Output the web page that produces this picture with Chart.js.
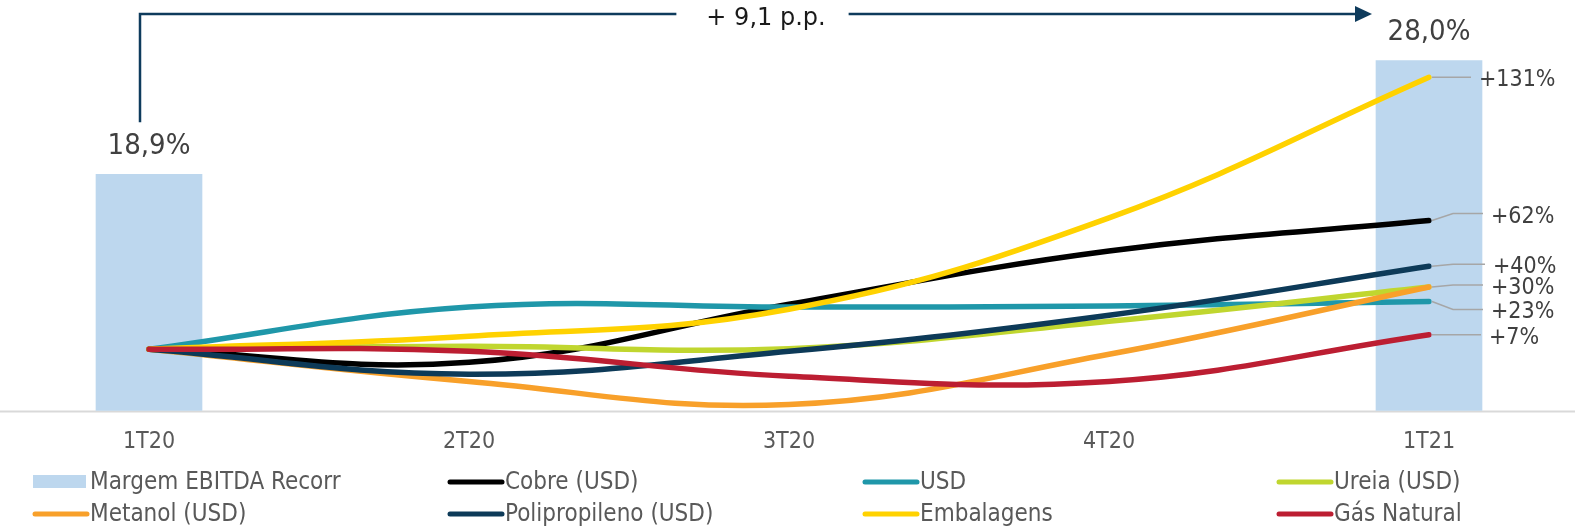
<!DOCTYPE html>
<html>
<head>
<meta charset="utf-8">
<script src="https://cdn.jsdelivr.net/npm/chart.js@4.4.1/dist/chart.umd.min.js"></script>
<style>
  html, body { margin: 0; padding: 0; background: #fff; overflow: hidden; }
  #wrap { width: 1575px; height: 529px; position: relative; }
</style>
</head>
<body>
<div id="wrap"><canvas id="myChart"></canvas></div>
<script>
'use strict'

// data (lines = % change vs 1T20)
const quarters = ['1T20', '2T20', '3T20', '4T20', '1T21']
const margem = [18.9, null, null, null, 28.0]
const cobre = [0, -6.3, 21.7, 47.3, 62]
const usd = [0, 20.3, 20.3, 20.8, 23]
const ureia = [0, 1.4, 0.3, 13.5, 30]
const metanol = [0, -15.5, -26.6, -2.4, 30]
const polipropileno = [0, -12, -1, 16.4, 40]
const embalagens = [0, 6.3, 19.3, 63.3, 131]
const gasNatural = [0, -1, -13, -15.5, 7]
const deltaText = '+ 9,1 p.p.'

const COND = "'DejaVu Sans Condensed', 'Liberation Sans Narrow', 'DejaVu Sans', sans-serif"
const TXT = '#404040'

const lines = [
  { label: 'Cobre (USD)', data: cobre, color: '#000000' },
  { label: 'USD', data: usd, color: '#1F97A9' },
  { label: 'Ureia (USD)', data: ureia, color: '#C0D62F' },
  { label: 'Metanol (USD)', data: metanol, color: '#F8A02A' },
  { label: 'Polipropileno (USD)', data: polipropileno, color: '#0D3A58' },
  { label: 'Embalagens', data: embalagens, color: '#FFD200' },
  { label: 'Gás Natural', data: gasNatural, color: '#BC1E32' }
]

// which series get an end label, and how far the label is nudged
const endLabels = [
  { idx: 5, dy: 0, tx: 52 },
  { idx: 0, dy: -7, tx: 64 },
  { idx: 4, dy: -2, tx: 66 },
  { idx: 3, dy: -2, tx: 64 },
  { idx: 1, dy: 8, tx: 64 },
  { idx: 6, dy: 0, tx: 62 }
]

const fmt = v => v.toFixed(1).replace('.', ',') + '%'

const extras = {
  id: 'extras',
  beforeDatasetsDraw(chart) {
    const { ctx, chartArea } = chart
    ctx.save()
    ctx.strokeStyle = '#D9D9D9'
    ctx.lineWidth = 2
    ctx.beginPath()
    ctx.moveTo(0, chartArea.bottom + 1)
    ctx.lineTo(chart.width, chartArea.bottom + 1)
    ctx.stroke()
    ctx.restore()
  },
  afterDraw(chart) {
    const { ctx } = chart
    const x = chart.scales.x
    ctx.save()

    // category labels
    ctx.font = '23px ' + COND
    ctx.fillStyle = '#595959'
    ctx.textAlign = 'center'
    ctx.textBaseline = 'middle'
    quarters.forEach((q, i) => ctx.fillText(q, x.getPixelForValue(i), 442))

    // bar value labels
    const bars = chart.getDatasetMeta(0).data
    ctx.font = '29px ' + COND
    ctx.fillStyle = TXT
    const tops = []
    margem.forEach((v, i) => {
      if (v == null) return
      const b = bars[i]
      ctx.fillText(fmt(v), b.x, b.y - 28)
      tops.push(b)
    })

    // arrow between the two bars
    const b1 = tops[0], b2 = tops[1]
    const ax = b1.x - 9
    const ay = 14
    const tipX = b2.x - b2.width / 2 - 4
    const cx = (b1.x + b2.x) / 2 - 23
    ctx.font = '24px DejaVu Sans'
    const tw = ctx.measureText(deltaText).width
    ctx.strokeStyle = '#0E3B5C'
    ctx.fillStyle = '#0E3B5C'
    ctx.lineWidth = 2.5
    ctx.beginPath()
    ctx.moveTo(ax, b1.y - 52)
    ctx.lineTo(ax, ay)
    ctx.lineTo(cx - tw / 2 - 30, ay)
    ctx.moveTo(cx + tw / 2 + 23, ay)
    ctx.lineTo(tipX - 14, ay)
    ctx.stroke()
    ctx.beginPath()
    ctx.moveTo(tipX, ay)
    ctx.lineTo(tipX - 17, ay - 8)
    ctx.lineTo(tipX - 17, ay + 8)
    ctx.closePath()
    ctx.fill()
    ctx.fillStyle = '#1A1A1A'
    ctx.fillText(deltaText, cx, ay + 5)

    // end labels with leader lines
    ctx.font = '23px ' + COND
    ctx.textAlign = 'left'
    endLabels.forEach(l => {
      const p = chart.getDatasetMeta(l.idx + 1).data[quarters.length - 1]
      const v = lines[l.idx].data[quarters.length - 1]
      const ly = p.y + l.dy
      ctx.strokeStyle = '#A6A6A6'
      ctx.lineWidth = 1.5
      ctx.beginPath()
      ctx.moveTo(p.x + 3, p.y)
      ctx.lineTo(p.x + 24, ly)
      ctx.lineTo(p.x + l.tx - 10, ly)
      ctx.stroke()
      ctx.fillStyle = TXT
      ctx.fillText('+' + Math.round(v) + '%', p.x + l.tx - 2, ly + 3)
    })

    // legend in a 4 x 2 grid
    const cols = [33, 448, 863, 1277]
    const rows = [482, 514]
    const items = [{ label: 'Margem EBITDA Recorr', color: '#BDD7EE', bar: true }].concat(lines)
    ctx.font = '24px ' + COND
    ctx.textBaseline = 'middle'
    items.forEach((it, i) => {
      const cx0 = cols[i % 4]
      const cy = rows[Math.floor(i / 4)]
      if (it.bar) {
        ctx.fillStyle = it.color
        ctx.fillRect(cx0, cy - 7, 53, 13)
      } else {
        ctx.strokeStyle = it.color
        ctx.lineWidth = 5
        ctx.lineCap = 'round'
        ctx.beginPath()
        ctx.moveTo(cx0 + 2, cy)
        ctx.lineTo(cx0 + 54, cy)
        ctx.stroke()
      }
      ctx.fillStyle = '#595959'
      ctx.fillText(it.label, cx0 + 57, cy + 1)
    })
    ctx.restore()
  }
}

const ctx = document.getElementById('myChart')
new Chart(ctx, {
  type: 'line',
  data: {
    labels: quarters,
    datasets: [{
      type: 'bar',
      label: 'Margem EBITDA Recorr',
      data: margem,
      backgroundColor: '#BDD7EE',
      barThickness: 106,
      yAxisID: 'y1',
      clip: false,
      order: 20
    }].concat(lines.map((l, i) => ({
      label: l.label,
      data: l.data,
      borderColor: l.color,
      backgroundColor: l.color,
      borderWidth: 5.5,
      pointRadius: 0,
      tension: 0.4,
      borderCapStyle: 'round',
      yAxisID: 'y',
      order: 10 - i
    })))
  },
  options: {
    responsive: true,
    maintainAspectRatio: false,
    animation: false,
    layout: { padding: { left: 149, right: 146, top: 20, bottom: 118.5 } },
    plugins: {
      legend: { display: false },
      tooltip: { enabled: false }
    },
    scales: {
      x: { display: false, offset: false },
      y: { display: false, min: -29.5, max: 158.6 },
      y1: { display: false, min: 0, max: 31.24 }
    }
  },
  plugins: [extras]
})
</script>
</body>
</html>
